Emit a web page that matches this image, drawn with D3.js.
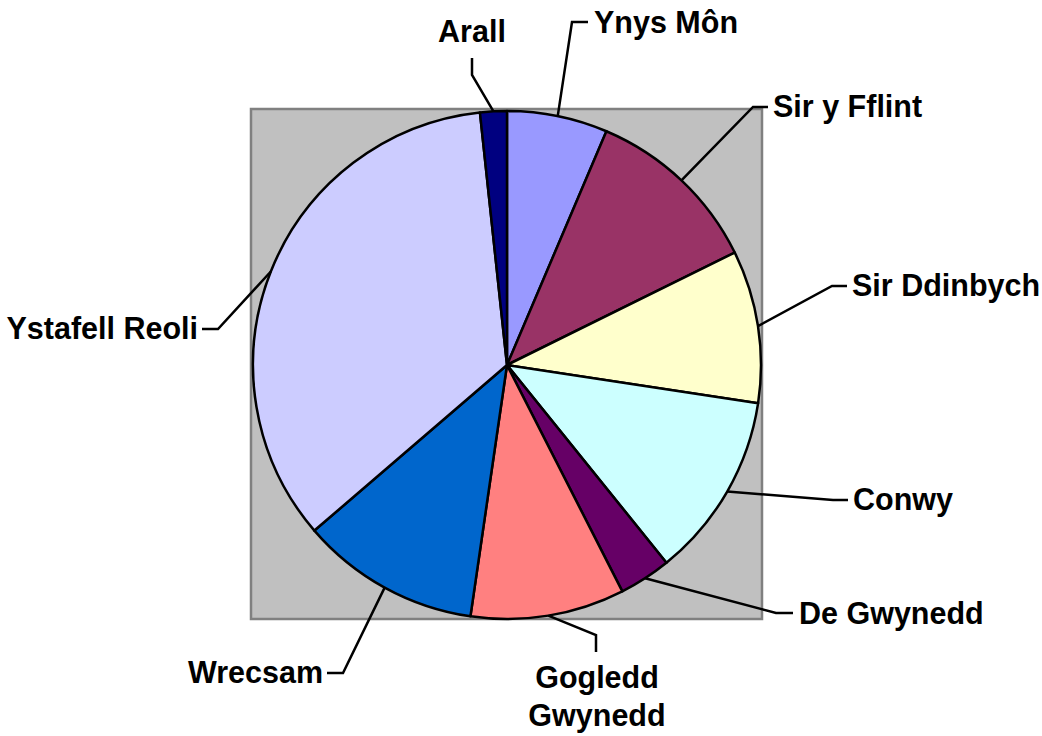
<!DOCTYPE html>
<html>
<head>
<meta charset="utf-8">
<script src="https://cdn.jsdelivr.net/npm/d3@7"></script>
<style>
  html, body { margin: 0; padding: 0; background: #fff; }
  svg { display: block; }
  text { font-family: "Liberation Sans", Arial, sans-serif; font-weight: bold; font-size: 30.5px; fill: #000; }
</style>
</head>
<body>
<svg id="chart" width="1042" height="736"></svg>
<script>
// Data
const categories = ["Ynys Môn", "Sir y Fflint", "Sir Ddinbych", "Conwy", "De Gwynedd", "Gogledd Gwynedd", "Wrecsam", "Ystafell Reoli", "Arall"];
const values = [6.4, 11.3, 9.7, 11.8, 3.3, 9.8, 11.4, 34.6, 1.7];
const colors = ["#9999FF", "#993366", "#FFFFCC", "#CCFFFF", "#660066", "#FF8080", "#0066CC", "#CCCCFF", "#000080"];
const labelLines = [["Ynys Môn"], ["Sir y Fflint"], ["Sir Ddinbych"], ["Conwy"], ["De Gwynedd"], ["Gogledd", "Gwynedd"], ["Wrecsam"], ["Ystafell Reoli"], ["Arall"]];

// Layout (label placement: elbow, end of leader, text position, anchor)
const labelLayout = [
  { elbow: [572, 22],  end: [588, 22],  tx: 594, ty: 33,  anchor: "start" },
  { elbow: [753, 107], end: [768, 107], tx: 773, ty: 117, anchor: "start" },
  { elbow: [832, 286], end: [847, 286], tx: 852, ty: 296, anchor: "start" },
  { elbow: [833, 500], end: [848, 500], tx: 853, ty: 510, anchor: "start" },
  { elbow: [776, 613], end: [793, 613], tx: 799, ty: 624, anchor: "start" },
  { elbow: [596, 635], end: [596, 652], tx: 597, ty: 688, anchor: "middle" },
  { elbow: [343, 673], end: [327, 673], tx: 323, ty: 683, anchor: "end" },
  { elbow: [218, 329], end: [202, 329], tx: 198, ty: 339, anchor: "end" },
  { elbow: [472, 75],  end: [472, 58],  tx: 472, ty: 42,  anchor: "middle" }
];

const svg = d3.select("#chart");
const cx = 507, cy = 365, r = 254;

// Plot area background
svg.append("rect")
  .attr("x", 251).attr("y", 109)
  .attr("width", 511).attr("height", 510)
  .attr("fill", "#C0C0C0")
  .attr("stroke", "#808080")
  .attr("stroke-width", 2.5);

const pie = d3.pie().sort(null).value(d => d)(values);
const arc = d3.arc().innerRadius(0).outerRadius(r);

const g = svg.append("g").attr("transform", `translate(${cx},${cy})`);
g.selectAll("path.slice")
  .data(pie)
  .join("path")
  .attr("class", "slice")
  .attr("d", arc)
  .attr("fill", (d, i) => colors[i])
  .attr("stroke", "#000")
  .attr("stroke-width", 2.5)
  .attr("stroke-linejoin", "round");

// Leader lines and labels
pie.forEach((d, i) => {
  const a = (d.startAngle + d.endAngle) / 2;
  const sx = cx + r * Math.sin(a);
  const sy = cy - r * Math.cos(a);
  const L = labelLayout[i];
  svg.append("polyline")
    .attr("points", [[sx, sy], L.elbow, L.end].map(p => p.join(",")).join(" "))
    .attr("fill", "none")
    .attr("stroke", "#000")
    .attr("stroke-width", 2.5);
  const t = svg.append("text")
    .attr("x", L.tx).attr("y", L.ty)
    .attr("text-anchor", L.anchor);
  labelLines[i].forEach((line, j) => {
    t.append("tspan").attr("x", L.tx).attr("dy", j === 0 ? 0 : 38).text(line);
  });
});
</script>
</body>
</html>
